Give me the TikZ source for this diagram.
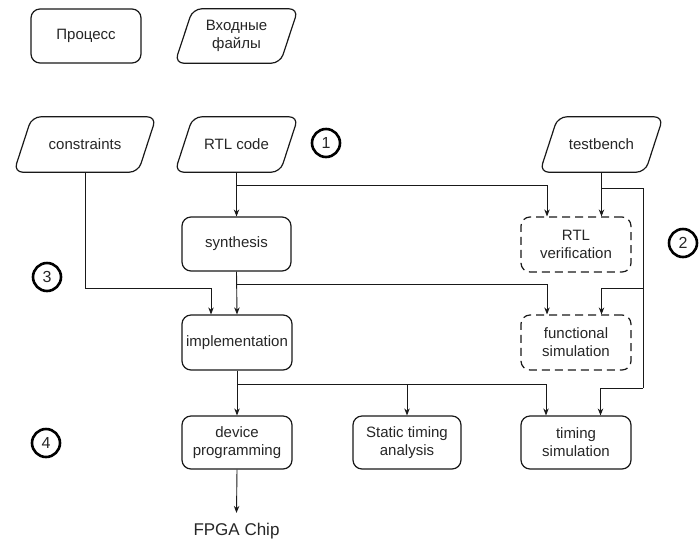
\documentclass[tikz,border=0pt]{standalone}
\usepackage{fontspec}
\setmainfont{Liberation Sans}
\usetikzlibrary{arrows.meta}
\begin{document}
\begin{tikzpicture}[x=1pt,y=-1pt,
  every node/.style={font=\fontsize{15}{18}\selectfont, text=black!85, align=center, inner sep=0pt},
  proc/.style={draw=black!90, rounded corners=9pt, line width=1.2pt, minimum width=110pt, minimum height=54pt},
  dproc/.style={proc, dash pattern=on 8pt off 5pt},
  io/.style={minimum height=55pt},
  num/.style={circle, draw=black, line width=2.6pt, minimum size=28pt, font=\fontsize{16}{18}\selectfont},
  conn/.style={draw=black!90, line width=0.9pt, -{Stealth[length=7pt,width=5.5pt]}},
  wire/.style={draw=black!90, line width=0.9pt},
  para/.style={draw=black!90, rounded corners=9pt, line width=1.2pt},
]
\fill[white] (0,0) rectangle (699,542);
\useasboundingbox (0,0) rectangle (699,542);

% legend
\node[proc] (proc) at (86,36) {Процесс};
\node[io, minimum width=123pt, minimum height=54pt] (inp) at (236.5,36) {Входные\\файлы};

% inputs
\node[io, minimum width=142pt] (cons) at (85,144.5) {constraints};
\node[io, minimum width=123pt] (rtl) at (236.5,144.5) {RTL code};
\node[io, minimum width=123pt] (tb) at (601.5,144.5) {testbench};

\foreach \n in {inp,cons,rtl,tb}
  \draw[para] ([xshift=18pt]\n.north west) -- (\n.north east) -- ([xshift=-18pt]\n.south east) -- (\n.south west) -- cycle;

% process boxes
\node[proc, minimum width=109pt] (syn) at (236.5,244) {synthesis};
\node[dproc, minimum height=55pt] (ver) at (576,244.5) {RTL\\verification};
\node[proc, minimum height=55pt] (impl) at (237,342.5) {implementation};
\node[dproc, minimum height=55pt] (func) at (576,342.5) {functional\\simulation};
\node[proc, minimum height=53pt] (dev) at (237,442.5) {device\\programming};
\node[proc, minimum width=108pt, minimum height=53pt] (sta) at (407,442.5) {Static timing\\analysis};
\node[proc, minimum height=53pt] (tsim) at (576,442.5) {timing\\simulation};
\node[font=\fontsize{17}{20}\selectfont] (fpga) at (236.5,531) {FPGA Chip};

% step numbers
\node[num] (n1) at (326,143) {1};
\node[num] (n2) at (683,243) {2};
\node[num] (n3) at (47,277) {3};
\node[num] (n4) at (46,443) {4};

% junction coordinates
\coordinate (tbtop) at (643,188);
\coordinate (tbmid) at (643,288);
\coordinate (tbbot) at (643,388);

% connectors
\draw[conn] (rtl.south) -- (syn.north);
\draw[conn] (rtl.south |- 0,185) -| ([xshift=-29pt]ver.north);
\draw[conn] (tb.south) -- (tb.south |- ver.north);
\draw[wire] (tb.south |- tbtop) -- (tbtop) -- (tbbot);
\draw[conn] (tbmid) -| (tb.south |- func.north);
\draw[conn] (tbbot) -| ([xshift=24.5pt]tsim.north);

\draw[conn] (syn.south) -- (impl.north);
\draw[conn] (syn.south |- 0,284) -| ([xshift=-29pt]func.north);
\draw[conn] (cons.south) -- (cons.south |- 0,288) -| ([xshift=-26pt]impl.north);

\draw[conn] (impl.south) -- (dev.north);
\draw[conn] (impl.south |- 0,384) -| (sta.north);
\draw[conn] (impl.south |- 0,384) -| ([xshift=-30pt]tsim.north);

\draw[conn] (dev.south) -- ([yshift=10pt]fpga.north);
\end{tikzpicture}
\end{document}
